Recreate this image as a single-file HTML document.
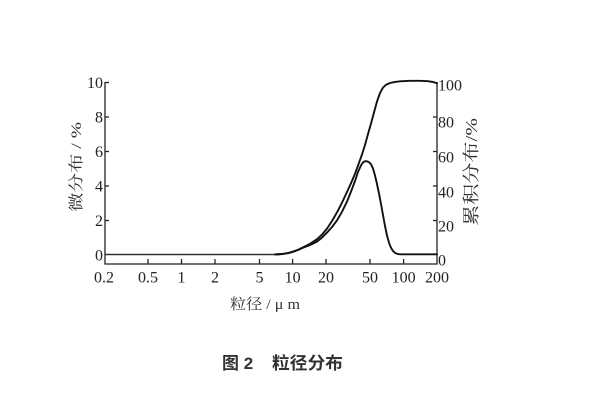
<!DOCTYPE html>
<html>
<head>
<meta charset="utf-8">
<style>
  html, body { margin:0; padding:0; background:#fff; }
  svg { display:block; }
  .num { font-family: "Liberation Serif", serif; font-size:16px; fill:#222; }
  .cjk { font-family: "Liberation Serif", "Noto Serif CJK SC", serif; fill:#333; }
  .cap { font-family: "Liberation Sans", "Noto Sans CJK SC", sans-serif; font-weight:bold; font-size:17px; fill:#333; }
</style>
</head>
<body>
<svg width="600" height="400" viewBox="0 0 600 400" xmlns="http://www.w3.org/2000/svg">
  <rect width="600" height="400" fill="#fff"/>
  <!-- axes -->
  <g stroke="#222" stroke-width="1.3" fill="none">
    <line x1="105" y1="82" x2="105" y2="264.5"/>
    <line x1="437" y1="82" x2="437" y2="264.5"/>
    <line x1="104.4" y1="264" x2="437.6" y2="264"/>
    <!-- left ticks -->
    <line x1="105" y1="82.5" x2="109" y2="82.5"/>
    <line x1="105" y1="117" x2="109" y2="117"/>
    <line x1="105" y1="151.5" x2="109" y2="151.5"/>
    <line x1="105" y1="186" x2="109" y2="186"/>
    <line x1="105" y1="220.5" x2="109" y2="220.5"/>
    <!-- right ticks -->
    <line x1="437" y1="117" x2="433" y2="117"/>
    <line x1="437" y1="151.5" x2="433" y2="151.5"/>
    <line x1="437" y1="186" x2="433" y2="186"/>
    <line x1="437" y1="220.5" x2="433" y2="220.5"/>
    <!-- x ticks -->
    <line x1="148" y1="264" x2="148" y2="259"/>
    <line x1="181.5" y1="264" x2="181.5" y2="259"/>
    <line x1="215" y1="264" x2="215" y2="259"/>
    <line x1="259.5" y1="264" x2="259.5" y2="259"/>
    <line x1="292.6" y1="264" x2="292.6" y2="259"/>
    <line x1="326" y1="264" x2="326" y2="259"/>
    <line x1="370" y1="264" x2="370" y2="259"/>
    <line x1="403.6" y1="264" x2="403.6" y2="259"/>
  </g>
  <!-- zero line left part -->
  <line x1="105" y1="254.5" x2="280" y2="254.5" stroke="#333" stroke-width="1.4"/>
  <!-- cumulative curve -->
  <polyline fill="none" stroke="#111" stroke-width="1.9" stroke-linejoin="round" stroke-linecap="round"
    points="275,254.4 282,254 288,253 293,251.6 298,249.8 303,247.4 310,243.8 317,239.2 322,234.6 327,228.6 332,221 337,212.4 342,202.6 347,192 351,183.2 355,173.8 359,162.8 362,154.5 365,145 368,134 371,123.5 374,112.5 377,101.5 380,93 383,87.6 386,84.8 390,83 395,81.9 400,81.3 410,80.8 420,80.8 428,81.2 433,82 437,83.2"/>
  <!-- differential curve -->
  <polyline fill="none" stroke="#111" stroke-width="1.9" stroke-linejoin="round" stroke-linecap="round"
    points="275,254.4 282,254 288,253.2 293,251.8 298,250 303,247.8 310,245 317,241.6 322,237.6 327,232.6 332,227 337,220.4 342,211.8 347,201.6 351,191.6 355,181 358,172 361,165.4 363,162.4 365,161.2 367,161.3 369,162.2 371,164.2 373,168.5 375,175.5 377,184 379,193.5 381,204 383,215 385,226 387,235.5 389,242.8 391,247.8 393,251 395,252.8 397,253.8 400,254.3 437,254.3"/>

  <!-- left labels -->
  <g class="num" text-anchor="end">
    <text x="103" y="88">10</text>
    <text x="103" y="122.5">8</text>
    <text x="103" y="157">6</text>
    <text x="103" y="191.5">4</text>
    <text x="103" y="226">2</text>
    <text x="103" y="260.5">0</text>
  </g>
  <!-- right labels -->
  <g class="num" text-anchor="start">
    <text x="438" y="90.5">100</text>
    <text x="438" y="127.5">80</text>
    <text x="438" y="162.5">60</text>
    <text x="438" y="197.5">40</text>
    <text x="438" y="231.5">20</text>
    <text x="438" y="265.5">0</text>
  </g>
  <!-- x labels -->
  <g class="num" text-anchor="middle">
    <text x="104" y="282.5">0.2</text>
    <text x="148" y="282.5">0.5</text>
    <text x="181.5" y="282.5">1</text>
    <text x="215" y="282.5">2</text>
    <text x="259.5" y="282.5">5</text>
    <text x="292.6" y="282.5">10</text>
    <text x="326" y="282.5">20</text>
    <text x="370" y="282.5">50</text>
    <text x="403.6" y="282.5">100</text>
    <text x="437" y="282.5">200</text>
  </g>
  <!-- axis titles -->
  <text class="cjk" x="265" y="309" font-size="15" text-anchor="middle" textLength="70" lengthAdjust="spacingAndGlyphs">粒径 / μ m</text>
  <text class="cjk" font-size="15" text-anchor="middle" transform="translate(81,167) rotate(-90)" textLength="90" lengthAdjust="spacingAndGlyphs">微分布 / %</text>
  <text class="cjk" font-size="17" text-anchor="middle" transform="translate(477,172) rotate(-90)" textLength="108" lengthAdjust="spacingAndGlyphs">累积分布/%</text>
  <!-- caption -->
  <text class="cap" x="222" y="369">图 2</text>
  <text class="cap" x="272" y="369" textLength="71" lengthAdjust="spacingAndGlyphs">粒径分布</text>
</svg>
</body>
</html>
